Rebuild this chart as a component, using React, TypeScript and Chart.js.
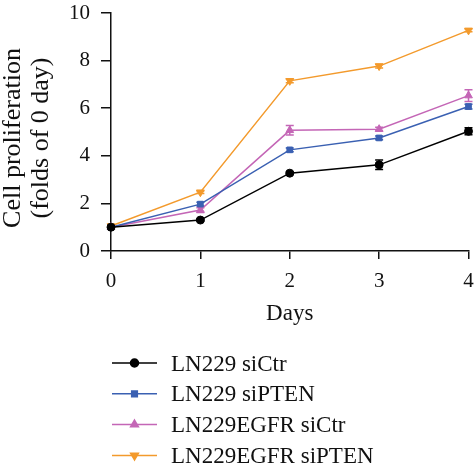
import React, { useEffect, useRef } from "react";
import { Chart, registerables } from "chart.js";
import { drawPoint } from "chart.js/helpers";

Chart.register(...registerables);

const days = [0, 1, 2, 3, 4];
const seriesNames = ["LN229 siCtr", "LN229 siPTEN", "LN229EGFR siCtr", "LN229EGFR siPTEN"];
const ln229SiCtr = [1.0, 1.3, 3.27, 3.62, 5.03];
const ln229SiPTEN = [1.0, 1.97, 4.25, 4.75, 6.07];
const egfrSiCtr = [1.0, 1.72, 5.07, 5.12, 6.53];
const egfrSiPTEN = [1.05, 2.47, 7.15, 7.77, 9.27];
const ln229SiCtrErr = [0.03, 0.05, 0.06, 0.2, 0.15];
const ln229SiPTENErr = [0.03, 0.08, 0.08, 0.08, 0.1];
const egfrSiCtrErr = [0.03, 0.1, 0.2, 0.08, 0.25];
const egfrSiPTENErr = [0.03, 0.05, 0.08, 0.08, 0.06];
const yTicks = [0, 2, 4, 6, 8, 10];
const xTitle = "Days";
const yTitle = ["Cell proliferation", "(folds of 0 day)"];

const colors = ["#000000", "#3a60b2", "#c466b6", "#f39a2c"];
const styles = [
  { pointStyle: "circle", rotation: 0, radius: 4 },
  { pointStyle: "rect", rotation: 0, radius: 4 },
  { pointStyle: "triangle", rotation: 0, radius: 4.5 },
  { pointStyle: "triangle", rotation: 180, radius: 4.5 },
];
const values = [ln229SiCtr, ln229SiPTEN, egfrSiCtr, egfrSiPTEN];
const errors = [ln229SiCtrErr, ln229SiPTENErr, egfrSiCtrErr, egfrSiPTENErr];

const FONT = "'Liberation Serif', 'DejaVu Serif', serif";

const errorBarPlugin = {
  id: "errorBars",
  beforeDatasetsDraw(chart: any) {
    const { ctx } = chart;
    const ys = chart.scales.y;
    chart.data.datasets.forEach((ds: any, i: number) => {
      const meta = chart.getDatasetMeta(i);
      const err = errors[i];
      ctx.save();
      ctx.strokeStyle = ds.borderColor;
      ctx.lineWidth = 1.5;
      meta.data.forEach((pt: any, j: number) => {
        const v = values[i][j];
        const yTop = ys.getPixelForValue(v + err[j]);
        const yBot = ys.getPixelForValue(v - err[j]);
        const x = pt.x;
        ctx.beginPath();
        ctx.moveTo(x, yTop);
        ctx.lineTo(x, yBot);
        ctx.moveTo(x - 4, yTop);
        ctx.lineTo(x + 4, yTop);
        ctx.moveTo(x - 4, yBot);
        ctx.lineTo(x + 4, yBot);
        ctx.stroke();
      });
      ctx.restore();
    });
  },
};

const customTextPlugin = {
  id: "customText",
  afterDraw(chart: any) {
    const { ctx } = chart;
    ctx.save();
    // y title
    ctx.fillStyle = "#111";
    ctx.font = `26px ${FONT}`;
    ctx.textAlign = "center";
    ctx.textBaseline = "alphabetic";
    const cy = (chart.chartArea.top + chart.chartArea.bottom) / 2 + 6;
    const baseX = [20, 48];
    yTitle.forEach((line, i) => {
      ctx.save();
      ctx.translate(baseX[i], cy);
      ctx.rotate(-Math.PI / 2);
      ctx.fillText(line, 0, 0);
      ctx.restore();
    });
    // legend
    const left = chart.chartArea.left + 1;
    const lineLen = 45;
    const rowY0 = 363;
    const rowStep = 30.8;
    chart.data.datasets.forEach((ds: any, i: number) => {
      const y = rowY0 + i * rowStep;
      ctx.strokeStyle = ds.borderColor;
      ctx.lineWidth = 1.5;
      ctx.beginPath();
      ctx.moveTo(left, y);
      ctx.lineTo(left + lineLen, y);
      ctx.stroke();
      ctx.fillStyle = ds.backgroundColor;
      drawPoint(ctx, { pointStyle: ds.pointStyle, rotation: ds.rotation, radius: ds.pointRadius, borderWidth: 1 }, left + lineLen / 2, y);
      ctx.fillStyle = "#111";
      ctx.font = `23px ${FONT}`;
      ctx.textAlign = "left";
      ctx.textBaseline = "alphabetic";
      ctx.fillText(seriesNames[i], left + lineLen + 14, y + 7.5);
    });
    ctx.restore();
  },
};

export default function App() {
  const ref = useRef<HTMLCanvasElement>(null);
  useEffect(() => {
    if (!ref.current) return;
    const chart = new Chart(ref.current, {
      type: "line",
      data: {
        datasets: values.map((vals, i) => ({
          label: seriesNames[i],
          data: days.map((d, j) => ({ x: d, y: vals[j] })),
          borderColor: colors[i],
          backgroundColor: colors[i],
          borderWidth: 1.5,
          pointStyle: styles[i].pointStyle as any,
          rotation: styles[i].rotation,
          pointRadius: styles[i].radius,
          pointBorderWidth: 1,
          tension: 0,
          clip: false as any,
        })),
      },
      options: {
        animation: false,
        responsive: false,
        layout: { padding: { left: 0, top: 13, right: 5, bottom: 139 } },
        plugins: { legend: { display: false }, tooltip: { enabled: false } },
        scales: {
          x: {
            type: "linear",
            min: 0,
            max: 4,
            afterFit: (s: any) => {
              s.height = 80;
              s.paddingLeft = 0;
              s.paddingRight = 0;
            },
            afterBuildTicks: (s: any) => { s.ticks = days.map((d) => ({ value: d })); },
            grid: { drawOnChartArea: false, drawTicks: true, tickLength: 8, color: "#111", lineWidth: 1.5 },
            border: { color: "#111", width: 1.5 },
            ticks: { color: "#111", font: { family: FONT, size: 21 }, padding: 10, maxRotation: 0 },
            title: { display: true, text: xTitle, color: "#111", font: { family: FONT, size: 23 }, padding: { top: 0, bottom: 3 } },
          },
          y: {
            type: "linear",
            min: 0,
            max: 10,
            afterFit: (s: any) => {
              s.width = 111;
              s.paddingTop = 0;
              s.paddingBottom = 0;
            },
            afterBuildTicks: (s: any) => { s.ticks = yTicks.map((v) => ({ value: v })); },
            grid: { drawOnChartArea: false, drawTicks: true, tickLength: 10, color: "#111", lineWidth: 1.5 },
            border: { color: "#111", width: 1.5 },
            ticks: { color: "#111", font: { family: FONT, size: 21 }, padding: 11 },
          },
        },
      },
      plugins: [errorBarPlugin, customTextPlugin],
    });
    return () => chart.destroy();
  }, []);
  return (
    <div style={{ position: "fixed", left: 0, top: 0, width: 474, height: 470, background: "#fff" }}>
      <canvas ref={ref} width={474} height={470} />
    </div>
  );
}
